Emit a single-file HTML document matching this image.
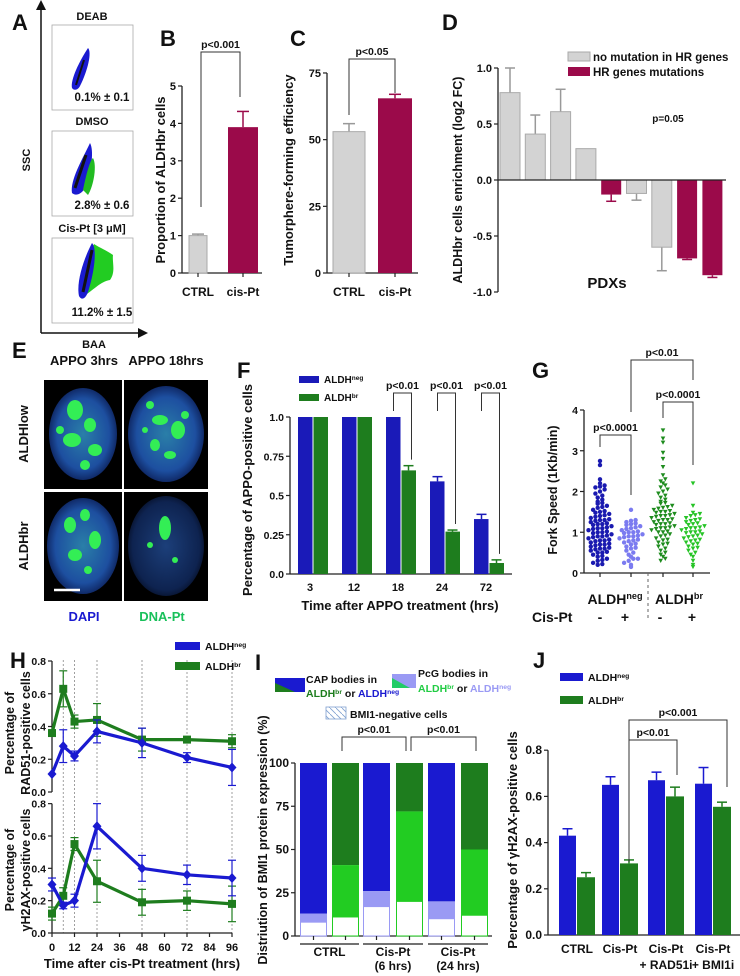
<!DOCTYPE html>
<html><head><meta charset="utf-8">
<style>
html,body{margin:0;padding:0;background:#fff;}
svg{display:block;font-family:"Liberation Sans",sans-serif;font-weight:bold;}
</style></head>
<body>
<svg id="fig" width="740" height="976" viewBox="0 0 740 976" xmlns="http://www.w3.org/2000/svg">
<defs>
<radialGradient id="cellA" cx="50%" cy="50%" r="55%"><stop offset="0" stop-color="#2a7fa8"/><stop offset="0.7" stop-color="#1d4fa0"/><stop offset="1" stop-color="#0a1a50"/></radialGradient>
<radialGradient id="cellB" cx="50%" cy="50%" r="55%"><stop offset="0" stop-color="#1c3f7a"/><stop offset="0.8" stop-color="#0e2350"/><stop offset="1" stop-color="#050d22"/></radialGradient>
<pattern id="hatch" width="6" height="6" patternUnits="userSpaceOnUse"><rect width="6" height="6" fill="#fff"/><path d="M0,0 L6,6" stroke="#7fa0d0" stroke-width="0.8"/></pattern>
</defs>
</svg>
<script>
// ---------- data ----------
const bCats=['CTRL','cis-Pt'];
const bVals=[1.0,3.9];
const bErr=[0.04,0.42];
const cCats=['CTRL','cis-Pt'];
const cVals=[53,65.5];
const cErr=[3,1.5];
const dVals=[0.78,0.41,0.61,0.28,-0.13,-0.12,-0.60,-0.70,-0.85];
const dErr=[0.22,0.17,0.20,0.0,0.06,0.06,0.21,0.01,0.02];
const dMut=[0,0,0,0,1,0,0,1,1];
const dTicks=[1.0,0.5,0.0,-0.5,-1.0];
const dTickLabels=['1.0','0.5','0.0','-0.5','-1.0'];
const fCats=['3','12','18','24','72'];
const fNeg=[1,1,1,0.59,0.35];
const fNegErr=[0,0,0,0.03,0.03];
const fBr=[1,1,0.66,0.27,0.07];
const fBrErr=[0,0,0.03,0.01,0.02];
const fTicks=[0,0.25,0.5,0.75,1.0];
const fTickLabels=['0.0','0.25','0.5','0.75','1.0'];
const gNegMinus=[0.2,0.22,0.25,0.3,0.32,0.35,0.4,0.42,0.45,0.5,0.5,0.52,0.55,0.58,0.6,0.6,0.62,0.65,0.68,0.7,0.7,0.72,0.75,0.78,0.8,0.8,0.82,0.85,0.88,0.9,0.9,0.92,0.95,0.98,1.0,1.0,1.02,1.05,1.08,1.1,1.1,1.12,1.15,1.18,1.2,1.2,1.22,1.25,1.28,1.3,1.3,1.32,1.35,1.38,1.4,1.42,1.45,1.48,1.5,1.52,1.55,1.6,1.62,1.65,1.7,1.72,1.75,1.8,1.85,1.9,1.95,2.0,2.05,2.1,2.12,2.15,2.2,2.3,2.65,2.75];
const gNegPlus=[0.15,0.2,0.25,0.3,0.35,0.35,0.4,0.45,0.5,0.55,0.6,0.62,0.65,0.7,0.72,0.75,0.78,0.8,0.82,0.85,0.88,0.9,0.9,0.92,0.95,0.98,1.0,1.0,1.02,1.05,1.08,1.1,1.12,1.15,1.18,1.2,1.22,1.25,1.28,1.3,1.55];
const gBrMinus=[0.3,0.35,0.4,0.45,0.5,0.55,0.6,0.65,0.7,0.72,0.75,0.8,0.82,0.85,0.9,0.92,0.95,1.0,1.0,1.02,1.05,1.08,1.1,1.1,1.12,1.15,1.18,1.2,1.2,1.22,1.25,1.28,1.3,1.3,1.32,1.35,1.38,1.4,1.4,1.42,1.45,1.48,1.5,1.5,1.52,1.55,1.58,1.6,1.62,1.65,1.7,1.72,1.75,1.8,1.85,1.9,1.95,2.0,2.05,2.1,2.15,2.2,2.25,2.3,2.4,2.6,2.8,2.95,3.2,3.3,3.5];
const gBrPlus=[0.15,0.2,0.3,0.4,0.45,0.5,0.55,0.6,0.62,0.65,0.7,0.72,0.75,0.78,0.8,0.82,0.85,0.88,0.9,0.92,0.95,0.98,1.0,1.0,1.02,1.05,1.08,1.1,1.1,1.12,1.15,1.18,1.2,1.22,1.25,1.28,1.3,1.32,1.35,1.4,1.42,1.45,1.48,1.65,2.2];
const hTimes=[0,6,12,24,48,72,96];
const hRadNeg=[0.11,0.28,0.22,0.37,0.30,0.21,0.15];
const hRadNegErr=[0.0,0.10,0.03,0.07,0.09,0.03,0.11];
const hRadBr=[0.36,0.63,0.43,0.44,0.32,0.32,0.31];
const hRadBrErr=[0.0,0.11,0.04,0.10,0.07,0.0,0.04];
const hGamNeg=[0.30,0.17,0.20,0.66,0.40,0.36,0.34];
const hGamNegErr=[0.04,0.02,0.04,0.14,0.08,0.06,0.11];
const hGamBr=[0.12,0.23,0.55,0.32,0.19,0.20,0.18];
const hGamBrErr=[0.04,0.05,0.04,0.13,0.08,0.06,0.11];
const hXTicks=[0,12,24,36,48,60,72,84,96];
const hYTicks=[0,0.2,0.4,0.6,0.8];
const iWhite=[8,11,17,20,10,12];
const iMidTop=[13,41,26,72,20,50];
const iIsBr=[0,1,0,1,0,1];
const iTicks=[0,25,50,75,100];
const jCats=['CTRL','Cis-Pt','Cis-Pt|+ RAD51i','Cis-Pt|+ BMI1i'];
const jNeg=[0.43,0.65,0.67,0.655];
const jNegErr=[0.03,0.035,0.035,0.07];
const jBr=[0.25,0.31,0.60,0.555];
const jBrErr=[0.02,0.015,0.04,0.02];
const jTicks=[0,0.2,0.4,0.6,0.8];

// ---------- helpers ----------
const NS='http://www.w3.org/2000/svg';
const svg=document.getElementById('fig');
function mk(tag,attrs,name){
  const el=document.createElementNS(NS,tag);
  for(const k in attrs) el.setAttribute(k,attrs[k]);
  
  
  svg.appendChild(el);
  return el;
}
function T(x,y,s,size,name,o){
  o=o||{};
  const a={x:x,y:y,'font-size':size,fill:o.fill||'#111','text-anchor':o.anchor||'middle'};
  if(o.rot) a.transform='rotate(-90 '+x+' '+y+')';
  const el=mk('text',a,name);
  const parts=Array.isArray(s)?s:[[s,0]];
  parts.forEach(p=>{
    const ts=document.createElementNS(NS,'tspan');
    ts.textContent=p[0];
    if(p[1]){ts.setAttribute('baseline-shift','super');ts.setAttribute('font-size',size*0.65);}
    if(p[2]) ts.setAttribute('fill',p[2]);
    el.appendChild(ts);
  });
  return el;
}
function L(x1,y1,x2,y2,name,st,w,dash){
  const a={x1:x1,y1:y1,x2:x2,y2:y2,stroke:st||'#222','stroke-width':w||1.2};
  if(dash) a['stroke-dasharray']=dash;
  return mk('line',a,name);
}
function R(x,y,w,h,fill,name,st,sw){
  const a={x:x,y:y,width:w,height:Math.max(0,h),fill:fill};
  if(st){a.stroke=st;a['stroke-width']=sw||1;}
  return mk('rect',a,name);
}
function errBar(x,yTop,yErr,cap,col,name){
  L(x,yTop,x,yErr,name,col,1.5);
  L(x-cap,yErr,x+cap,yErr,name+'-cap',col,1.5);
}
function yAxis(x,ticks,labels,sc,yTop,yBot,name,fs){
  L(x,yTop,x,yBot,name,'#222',1.3);
  ticks.forEach((t,i)=>{
    L(x-4,sc(t),x,sc(t),name+'-tick','#222',1.2);
    T(x-6,sc(t)+4,labels[i],fs||11,name+'-label',{anchor:'end'});
  });
}
function bracket(x1,x2,yTop,y1,y2,label,name){
  mk('path',{d:'M'+x1+','+y1+' L'+x1+','+yTop+' L'+x2+','+yTop+' L'+x2+','+y2,fill:'none',stroke:'#333','stroke-width':1},name);
  T((x1+x2)/2,yTop-4,label,10.5,name+'-label');
}

// ---------- Panel A ----------
T(12,30,'A',22,'panel-letter-a',{anchor:'start'});
mk('path',{d:'M41,333 L41,8',stroke:'#111','stroke-width':1.5,fill:'none'},'a-y-axis');
mk('path',{d:'M36,10 L41,0 L46,10 Z',fill:'#111'},'a-y-arrow');
mk('path',{d:'M41,333 L140,333',stroke:'#111','stroke-width':1.5,fill:'none'},'a-x-axis');
mk('path',{d:'M138,328 L148,333 L138,338 Z',fill:'#111'},'a-x-arrow');
T(30,160,'SSC',11,'a-y-title',{rot:1});
T(94,348,'BAA',11,'a-x-title');
[[25,20,'DEAB','0.1% ± 0.1',101],[131,125,'DMSO','2.8% ± 0.6',209],[238,232,'Cis-Pt [3 μM]','11.2% ± 1.5',316]].forEach((p,i)=>{
  T(92,p[1],p[2],11,'a-plot-title');
  R(52,p[0],81,85,'none','a-plot-frame','#aaa',0.8);
  T(102,p[4],p[3],11.5,'a-percent-label');
});
mk('path',{d:'M72,88 C70,80 80,60 88,48 C92,52 88,70 80,86 C78,90 74,91 72,88Z',fill:'#1a1ad0'},'a-deab-blob');
mk('path',{d:'M76,85 L84,60',stroke:'#111','stroke-width':2},'a-deab-core');
mk('path',{d:'M72,193 C70,180 82,160 90,143 C94,150 92,170 85,188 C81,195 75,196 72,193Z',fill:'#1a1ad0'},'a-dmso-blue');
mk('path',{d:'M83,190 C86,175 90,160 93,158 C97,165 94,185 88,195Z',fill:'#22bb22'},'a-dmso-green');
mk('path',{d:'M75,188 L86,155',stroke:'#111','stroke-width':3},'a-dmso-core');
mk('path',{d:'M84,296 C96,288 100,282 110,280 C116,272 112,262 113,255 C106,250 100,248 94,244 C89,255 86,272 84,296Z',fill:'#22cc22'},'a-cis-green');
mk('path',{d:'M79,296 C76,282 84,258 92,243 C97,248 95,270 88,292 C85,300 81,300 79,296Z',fill:'#1a1ad0'},'a-cis-blue');
mk('path',{d:'M83,292 L92,250',stroke:'#111','stroke-width':3},'a-cis-core');

// ---------- Panel B ----------
T(160,46,'B',22,'panel-letter-b',{anchor:'start'});
const yB=v=>273-v*37.4;
const bX=[[189,18],[228,30]];
yAxis(182,[0,1,2,3,4,5],['0','1','2','3','4','5'],yB,yB(5),273,'b-y-axis');
L(182,273,262,273,'b-x-axis','#222',1.3);
bVals.forEach((v,i)=>{
  const c=bX[i][0]+bX[i][1]/2, col=i?'#9b0a4a':'#d3d3d3';
  errBar(c,yB(v),yB(v+bErr[i]),6,i?'#9b0a4a':'#999','b-errbar');
  R(bX[i][0],yB(v),bX[i][1],273-yB(v),col,'b-bar-'+i,i?null:'#aaa',1);
  L(c,273,c,277,'b-x-tick');
  T(c,296,bCats[i],12,'b-x-label');
});
T(165,180,'Proportion of ALDHbr cells',13,'b-y-title',{rot:1});
bracket(201,240,52,207,97,'p<0.001','b-sig-bracket');

// ---------- Panel C ----------
T(290,46,'C',22,'panel-letter-c',{anchor:'start'});
const yC=v=>273-v*2.667;
const cX=[[333,32],[378,34]];
yAxis(327,[0,25,50,75],['0','25','50','75'],yC,yC(75),273,'c-y-axis');
L(327,273,418,273,'c-x-axis','#222',1.3);
cVals.forEach((v,i)=>{
  const c=cX[i][0]+cX[i][1]/2;
  errBar(c,yC(v),yC(v+cErr[i]),6,i?'#9b0a4a':'#999','c-errbar');
  R(cX[i][0],yC(v),cX[i][1],273-yC(v),i?'#9b0a4a':'#d3d3d3','c-bar-'+i,i?null:'#aaa',1);
  L(c,273,c,277,'c-x-tick');
  T(c,296,cCats[i],12,'c-x-label');
});
T(293,170,'Tumorphere-forming efficiency',13,'c-y-title',{rot:1});
bracket(349,395,59,115,93,'p<0.05','c-sig-bracket');

// ---------- Panel D ----------
T(442,30,'D',22,'panel-letter-d',{anchor:'start'});
const yD=v=>180-v*112;
yAxis(498,dTicks,dTickLabels,yD,yD(1),yD(-1),'d-y-axis');
dVals.forEach((v,i)=>{
  const x=500+i*25.3, c=x+10, col=dMut[i]?'#9b0a4a':'#d3d3d3', ec=dMut[i]?'#9b0a4a':'#999';
  const top=Math.min(yD(v),180), h=Math.abs(yD(v)-180);
  const e=v>=0?v+dErr[i]:v-dErr[i];
  if(dErr[i]>0) errBar(c,yD(v),yD(e),5,ec,'d-errbar');
  R(x,top,20,h,col,'d-bar-'+i,dMut[i]?null:'#aaa',1);
});
L(498,180,726,180,'d-zero-line','#222',1.3);
R(568,52,22,9,'#d3d3d3','d-legend-swatch-nomut','#aaa',1);
T(593,61,'no mutation in HR genes',11.5,'d-legend-label-nomut',{anchor:'start'});
R(568,67,22,9,'#9b0a4a','d-legend-swatch-mut');
T(593,76,'HR genes mutations',11.5,'d-legend-label-mut',{anchor:'start'});
T(668,122,'p=0.05',10,'d-pvalue');
T(607,288,'PDXs',15,'d-x-title');
T(462,180,'ALDHbr cells enrichment (log2 FC)',12.5,'d-y-title',{rot:1});

// ---------- Panel E ----------
T(12,358,'E',22,'panel-letter-e',{anchor:'start'});
T(84,365,'APPO 3hrs',13,'e-col-title-3h');
T(166,365,'APPO 18hrs',13,'e-col-title-18h');
T(28,434,'ALDHlow',13,'e-row-title-low',{rot:1});
T(28,546,'ALDHbr',13,'e-row-title-br',{rot:1});
[[44,380],[124,380],[44,492],[124,492]].forEach((p,i)=>{
  R(p[0],p[1],i%2?84:78,109,'#000','e-image-'+i);
});
mk('ellipse',{cx:83,cy:434,rx:34,ry:46,fill:'url(#cellA)'},'e-cell-low-3h');
mk('ellipse',{cx:166,cy:434,rx:38,ry:48,fill:'url(#cellA)'},'e-cell-low-18h');
mk('ellipse',{cx:83,cy:546,rx:36,ry:48,fill:'url(#cellA)'},'e-cell-br-3h');
mk('ellipse',{cx:166,cy:546,rx:38,ry:50,fill:'url(#cellB)'},'e-cell-br-18h');
[[75,410,8,10],[90,425,6,7],[72,440,9,7],[95,450,7,6],[85,465,5,5],[60,430,4,4],
 [150,405,4,4],[160,420,8,5],[178,430,7,9],[155,445,5,6],[170,455,6,4],[185,415,4,4],[145,430,3,3],
 [70,525,6,8],[85,515,5,6],[95,540,6,9],[75,555,7,6],[88,570,4,4],
 [165,528,6,12],[150,545,3,3],[175,560,3,3]].forEach(s=>{
  mk('ellipse',{cx:s[0],cy:s[1],rx:s[2],ry:s[3],fill:'#33ee55'},'e-dnapt-spot');
});
L(54,590,80,590,'e-scale-bar','#fff',2.5);
T(84,621,'DAPI',13,'e-label-dapi',{fill:'#1a1ad0'});
T(162,621,'DNA-Pt',13,'e-label-dnapt',{fill:'#18c05a'});

// ---------- Panel F ----------
T(237,378,'F',22,'panel-letter-f',{anchor:'start'});
const yF=v=>574-v*157;
yAxis(290,fTicks,fTickLabels,yF,yF(1),574,'f-y-axis',10.5);
L(290,574,512,574,'f-x-axis','#222',1.3);
fCats.forEach((c,i)=>{
  const cx=313+i*44;
  if(fNegErr[i]>0) errBar(cx-7.5,yF(fNeg[i]),yF(fNeg[i]+fNegErr[i]),5,'#1a1ab8','f-errbar-neg');
  if(fBrErr[i]>0) errBar(cx+7.5,yF(fBr[i]),yF(fBr[i]+fBrErr[i]),5,'#1e7d1e','f-errbar-br');
  R(cx-15,yF(fNeg[i]),14.5,574-yF(fNeg[i]),'#1a1ab8','f-bar-neg-'+c);
  R(cx+0.5,yF(fBr[i]),14.5,574-yF(fBr[i]),'#1e7d1e','f-bar-br-'+c);
  T(cx-3,591,c,11,'f-x-label');
});
[2,3,4].forEach(i=>{
  const cx=313+i*44;
  bracket(cx-7.5,cx+7.5+3,393,Math.min(yF(fNeg[i]+fNegErr[i])-6,yF(1)-6),yF(fBr[i]+fBrErr[i])-6,'p<0.01','f-sig-bracket');
});
R(299,376,20,7,'#1a1ab8','f-legend-swatch-neg');
T(324,383,[['ALDH',0],['neg',1]],10,'f-legend-label-neg',{anchor:'start'});
R(299,394,20,7,'#1e7d1e','f-legend-swatch-br');
T(324,401,[['ALDH',0],['br',1]],10,'f-legend-label-br',{anchor:'start'});
T(400,610,'Time after APPO treatment (hrs)',13,'f-x-title');
T(252,490,'Percentage of APPO-positive cells',13,'f-y-title',{rot:1});

// ---------- Panel G ----------
T(532,378,'G',22,'panel-letter-g',{anchor:'start'});
const yG=v=>573-v*40.75;
yAxis(584,[0,1,2,3,4],['0','1','2','3','4'],yG,yG(4),573,'g-y-axis',10.5);
L(584,573,710,573,'g-x-axis','#222',1.3);
const gCols=[[gNegMinus,600,'#1a1ab0',0],[gNegPlus,631,'#7b7bf0',0],[gBrMinus,663,'#1e8c1e',1],[gBrPlus,693,'#26c426',1]];
gCols.forEach((g,gi)=>{
  const bins={};
  g[0].forEach(v=>{const b=Math.round(v/0.1);(bins[b]=bins[b]||[]).push(v);});
  Object.keys(bins).forEach(b=>{
    const arr=bins[b];
    arr.forEach((v,k)=>{
      const dx=(k-(arr.length-1)/2)*4.6, x=g[1]+dx, y=yG(v);
      if(g[3]){
        mk('path',{d:'M'+(x-2.3)+','+(y-2)+' L'+(x+2.3)+','+(y-2)+' L'+x+','+(y+2.2)+'Z',fill:g[2]},'g-point-'+gi);
      } else {
        mk('circle',{cx:x,cy:y,r:2.2,fill:g[2]},'g-point-'+gi);
      }
    });
  });
  L(g[1],573,g[1],577,'g-x-tick');
});
L(648,573,648,618,'g-group-separator','#666',1,'3,3');
T(615,604,[['ALDH',0],['neg',1]],14,'g-group-label-neg');
T(679,604,[['ALDH',0],['br',1]],14,'g-group-label-br');
T(532,622,'Cis-Pt',14,'g-cispt-label',{anchor:'start'});
T(600,622,'-',14,'g-cispt-minus-1');
T(625,622,'+',14,'g-cispt-plus-1');
T(660,622,'-',14,'g-cispt-minus-2');
T(692,622,'+',14,'g-cispt-plus-2');
bracket(600,631,435,447,495,'p<0.0001','g-sig-bracket-neg');
bracket(631,693,360,412,380,'p<0.01','g-sig-bracket-cross');
bracket(663,693,402,418,465,'p<0.0001','g-sig-bracket-br');
T(557,490,'Fork Speed (1Kb/min)',12.5,'g-y-title',{rot:1});

// ---------- Panel H ----------
T(10,668,'H',22,'panel-letter-h',{anchor:'start'});
const xH=t=>52+t*1.875;
const yHu=v=>792-v*163.75;
const yHl=v=>933-v*161.7;
[6,12,24,48,72,96].forEach(t=>L(xH(t),660,xH(t),933,'h-gridline','#888',0.8,'2,2'));
yAxis(52,hYTicks,['0.0','0.2','0.4','0.6','0.8'],yHu,yHu(0.8),792,'h-upper-y-axis',10.5);
yAxis(52,hYTicks,['0.0','0.2','0.4','0.6','0.8'],yHl,yHl(0.8),933,'h-lower-y-axis',10.5);
L(52,933,232,933,'h-x-axis','#222',1.3);
hXTicks.forEach(t=>{L(xH(t),933,xH(t),937,'h-x-tick');T(xH(t),951,String(t),11,'h-x-label');});
function hSeries(vals,errs,sc,col,sq,name){
  vals.forEach((v,i)=>{ if(errs[i]>0){
    const x=xH(hTimes[i]);
    L(x,sc(v-errs[i]),x,sc(v+errs[i]),name+'-err',col,1.2);
    L(x-4,sc(v-errs[i]),x+4,sc(v-errs[i]),name+'-errcap',col,1.2);
    L(x-4,sc(v+errs[i]),x+4,sc(v+errs[i]),name+'-errcap',col,1.2);
  }});
  mk('polyline',{points:vals.map((v,i)=>xH(hTimes[i])+','+sc(v)).join(' '),fill:'none',stroke:col,'stroke-width':3.2,'stroke-linejoin':'round'},name+'-line');
  vals.forEach((v,i)=>{
    const x=xH(hTimes[i]),y=sc(v);
    if(sq) mk('rect',{x:x-4,y:y-4,width:8,height:8,fill:col},name+'-marker');
    else mk('path',{d:'M'+x+','+(y-5)+' L'+(x+4.5)+','+y+' L'+x+','+(y+5)+' L'+(x-4.5)+','+y+'Z',fill:col},name+'-marker');
  });
}
hSeries(hRadBr,hRadBrErr,yHu,'#1e7d1e',1,'h-rad51-br');
hSeries(hRadNeg,hRadNegErr,yHu,'#1a1ad0',0,'h-rad51-neg');
hSeries(hGamBr,hGamBrErr,yHl,'#1e7d1e',1,'h-gh2ax-br');
hSeries(hGamNeg,hGamNegErr,yHl,'#1a1ad0',0,'h-gh2ax-neg');
R(175,642,25,8,'#1a1ad0','h-legend-swatch-neg');
T(205,650,[['ALDH',0],['neg',1]],10.5,'h-legend-label-neg',{anchor:'start'});
R(175,662,25,8,'#1e7d1e','h-legend-swatch-br');
T(205,670,[['ALDH',0],['br',1]],10.5,'h-legend-label-br',{anchor:'start'});
T(14,733,'Percentage of',12.5,'h-upper-y-title-1',{rot:1});
T(30,733,'RAD51-positive cells',12.5,'h-upper-y-title-2',{rot:1});
T(14,870,'Percentage of',12.5,'h-lower-y-title-1',{rot:1});
T(30,870,'γH2AX-positive cells',12.5,'h-lower-y-title-2',{rot:1});
T(142,968,'Time after cis-Pt treatment (hrs)',13,'h-x-title');

// ---------- Panel I ----------
T(255,670,'I',22,'panel-letter-i',{anchor:'start'});
mk('path',{d:'M275,678 L305,678 L305,692 L275,692Z',fill:'#1a1ad0'},'i-legend-cap-blue');
mk('path',{d:'M275,683 L295,692 L275,692Z',fill:'#1e7d1e'},'i-legend-cap-green');
T(306,683,'CAP bodies in',10.5,'i-legend-cap-text',{anchor:'start'});
T(306,697,[['ALDH',0,'#1e7d1e'],['br',1,'#1e7d1e'],[' or ',0],['ALDH',0,'#1a1ad0'],['neg',1,'#1a1ad0']],10.5,'i-legend-cap-text-2',{anchor:'start'});
mk('path',{d:'M392,674 L416,674 L416,688 L392,688Z',fill:'#9a9af4'},'i-legend-pcg-blue');
mk('path',{d:'M392,678 L410,688 L392,688Z',fill:'#22cc66'},'i-legend-pcg-green');
T(418,677,'PcG bodies in',10.5,'i-legend-pcg-text',{anchor:'start'});
T(418,692,[['ALDH',0,'#22cc44'],['br',1,'#22cc44'],[' or ',0],['ALDH',0,'#9a9af4'],['neg',1,'#9a9af4']],10.5,'i-legend-pcg-text-2',{anchor:'start'});
R(326,707,20,12,'url(#hatch)','i-legend-bmi1neg-swatch','#7fa0d0',0.8);
T(350,718,'BMI1-negative cells',10.5,'i-legend-bmi1neg-text',{anchor:'start'});
const yI=v=>936-v*1.73;
yAxis(295,iTicks,['0','25','50','75','100'],yI,yI(100),936,'i-y-axis',12);
L(295,936,492,936,'i-x-axis','#222',1.3);
const iX=[300,332,363,396,428,461];
iX.forEach((x,i)=>{
  const dark=iIsBr[i]?'#1e7d1e':'#1a1ad0', mid=iIsBr[i]?'#22cc22':'#9a9af4', edge=iIsBr[i]?'#22cc22':'#9a9af4';
  R(x,yI(100),27,yI(iMidTop[i])-yI(100),dark,'i-bar-top-'+i);
  R(x,yI(iMidTop[i]),27,yI(iWhite[i])-yI(iMidTop[i]),mid,'i-bar-mid-'+i);
  R(x+0.5,yI(iWhite[i]),26,936-yI(iWhite[i]),'#fff','i-bar-bottom-'+i,edge,1);
  L(x+13.5,936,x+13.5,940,'i-x-tick');
});
[['CTRL',''],['Cis-Pt','(6 hrs)'],['Cis-Pt','(24 hrs)']].forEach((g,i)=>{
  L(iX[i*2],944,iX[i*2+1]+27,944,'i-group-line','#444',1.5);
  const cx=(iX[i*2]+iX[i*2+1]+27)/2;
  T(cx,956,g[0],12,'i-group-label');
  if(g[1]) T(cx,970,g[1],12,'i-group-sublabel');
});
bracket(342,406,737,751,751,'p<0.01','i-sig-bracket-1');
bracket(411,476,737,751,751,'p<0.01','i-sig-bracket-2');
T(267,840,'Distriution of BMI1 protein expression (%)',12.5,'i-y-title',{rot:1});

// ---------- Panel J ----------
T(533,668,'J',22,'panel-letter-j',{anchor:'start'});
R(560,673,23,8,'#1a1ad0','j-legend-swatch-neg');
T(588,681,[['ALDH',0],['neg',1]],10.5,'j-legend-label-neg',{anchor:'start'});
R(560,696,23,8,'#1e7d1e','j-legend-swatch-br');
T(588,704,[['ALDH',0],['br',1]],10.5,'j-legend-label-br',{anchor:'start'});
const yJ=v=>935-v*231;
yAxis(548,jTicks,['0.0','0.2','0.4','0.6','0.8'],yJ,yJ(0.8),935,'j-y-axis',12);
L(548,935,740,935,'j-x-axis','#222',1.3);
const jX=[559,602,648,695];
jCats.forEach((c,i)=>{
  const x=jX[i];
  errBar(x+8.5,yJ(jNeg[i]),yJ(jNeg[i]+jNegErr[i]),5,'#1a1ad0','j-errbar-neg');
  errBar(x+27,yJ(jBr[i]),yJ(jBr[i]+jBrErr[i]),5,'#1e7d1e','j-errbar-br');
  R(x,yJ(jNeg[i]),17,935-yJ(jNeg[i]),'#1a1ad0','j-bar-neg-'+i);
  R(x+18,yJ(jBr[i]),18,935-yJ(jBr[i]),'#1e7d1e','j-bar-br-'+i);
  const lines=c.split('|');
  T(x+18,953,lines[0],12,'j-x-label');
  if(lines[1]) T(x+18,969,lines[1],12,'j-x-sublabel');
});
bracket(629,677,740,862,775,'p<0.01','j-sig-bracket-rad51');
bracket(629,727,720,740,787,'p<0.001','j-sig-bracket-bmi1');
T(517,840,'Percentage of γH2AX-positive cells',13,'j-y-title',{rot:1});
</script>
</body></html>
